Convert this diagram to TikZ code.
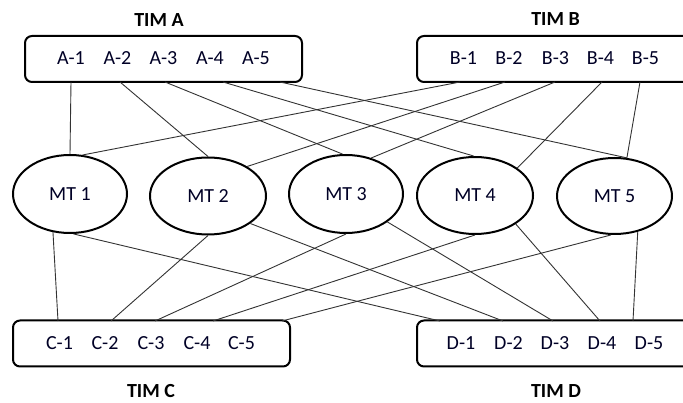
\documentclass[tikz,border=0pt]{standalone}
\usepackage{fontspec}
\setmainfont{Carlito}
\usetikzlibrary{shapes.geometric}

\tikzset{
  team/.style={draw=black, line width=2pt, rounded corners=7pt, minimum width=277pt,
    minimum height=46pt, inner sep=0pt},
  title/.style={font=\fontsize{20}{24}\selectfont\bfseries, inner sep=0pt},
  member/.style={font=\fontsize{20}{24}\selectfont, text=black!85!blue, inner sep=0pt, anchor=base},
  mt/.style={draw=black, line width=2pt, ellipse, inner sep=0pt,
    font=\fontsize{20}{24}\selectfont, text=black!85!blue},
  link/.style={draw=black!80, line width=0.9pt}
}

\begin{document}
\begin{tikzpicture}[x=1pt, y=-1pt]
  \clip (0,0) rectangle (683,403);
  \fill[white] (0,0) rectangle (683,403);

  % team titles
  \node[title] (tA) at (159,20) {TIM A};
  \node[title] (tB) at (555.5,19.5) {TIM B};
  \node[title] (tC) at (151,391) {TIM C};
  \node[title] (tD) at (556,391.5) {TIM D};

  % team boxes
  \node[team] (boxA) at (163.5,59) {};
  \node[team] (boxB) at (555.5,59) {};
  \node[team] (boxC) at (151.5,343.5) {};
  \node[team] (boxD) at (555.5,343.5) {};

  % members
  \node[member] (la1) at (71,65) {A-1};
  \node[member] (la2) at (117.5,65) {A-2};
  \node[member] (la3) at (163.5,65) {A-3};
  \node[member] (la4) at (210,65) {A-4};
  \node[member] (la5) at (256,65) {A-5};

  \node[member] (lb1) at (463.5,65) {B-1};
  \node[member] (lb2) at (509,65) {B-2};
  \node[member] (lb3) at (555.5,65) {B-3};
  \node[member] (lb4) at (600.5,65) {B-4};
  \node[member] (lb5) at (645.5,65) {B-5};

  \node[member] (lc1) at (59.5,350) {C-1};
  \node[member] (lc2) at (105,350) {C-2};
  \node[member] (lc3) at (151,350) {C-3};
  \node[member] (lc4) at (197,350) {C-4};
  \node[member] (lc5) at (241.5,350) {C-5};

  \node[member] (ld1) at (461,350) {D-1};
  \node[member] (ld2) at (508.5,350) {D-2};
  \node[member] (ld3) at (555,350) {D-3};
  \node[member] (ld4) at (602,350) {D-4};
  \node[member] (ld5) at (649,350) {D-5};

  % mixed teams
  \node[mt, minimum width=114pt, minimum height=78pt] (mt1) at (70,194) {MT 1};
  \node[mt, minimum width=116pt, minimum height=77pt] (mt2) at (208,196) {MT 2};
  \node[mt, minimum width=114pt, minimum height=78pt] (mt3) at (346,194) {MT 3};
  \node[mt, minimum width=116pt, minimum height=77pt] (mt4) at (475,195.5) {MT 4};
  \node[mt, minimum width=115pt, minimum height=76pt] (mt5) at (614.5,196) {MT 5};

  % attachment points on the team boxes
  \coordinate (pa1) at (71,82);  \coordinate (pa2) at (120,82);
  \coordinate (pa3) at (165,82); \coordinate (pa4) at (223,82);
  \coordinate (pa5) at (280,82);
  \coordinate (pb1) at (460,82); \coordinate (pb2) at (505,82);
  \coordinate (pb3) at (555,82); \coordinate (pb4) at (602,82);
  \coordinate (pb5) at (640,82);
  \coordinate (pc1) at (58,321);  \coordinate (pc2) at (111,321);
  \coordinate (pc3) at (155,321); \coordinate (pc4) at (213,321);
  \coordinate (pc5) at (282,321);
  \coordinate (pd1) at (440,321); \coordinate (pd2) at (503,321);
  \coordinate (pd3) at (553,321); \coordinate (pd4) at (600,321);
  \coordinate (pd5) at (633,321);

  % connectors
  \begin{scope}[link]
    \draw (pa1) -- (mt1.north);
    \draw (pa2) -- (mt2.north);
    \draw (pa3) -- (mt3.95);
    \draw (pa4) -- (mt4.92);
    \draw (pa5) -- (mt5.72);

    \draw (pb1) -- (mt1.72);
    \draw (pb2) -- (mt2.37);
    \draw (pb3) -- (mt3.55);
    \draw (pb4) -- (mt4.33);
    \draw (pb5) -- (mt5.72);

    \draw (mt1.246) -- (pc1);
    \draw (mt2.south) -- (pc2);
    \draw (mt3.south) -- (pc3);
    \draw (mt4.south) -- (pc4);
    \draw (mt5.265) -- (pc5);

    \draw (mt1.275) -- (pd1);
    \draw (mt2.327) -- (pd2);
    \draw (mt3.326) -- (pd3);
    \draw (mt4.325) -- (pd4);
    \draw (mt5.303) -- (pd5);
  \end{scope}
\end{tikzpicture}
\end{document}
